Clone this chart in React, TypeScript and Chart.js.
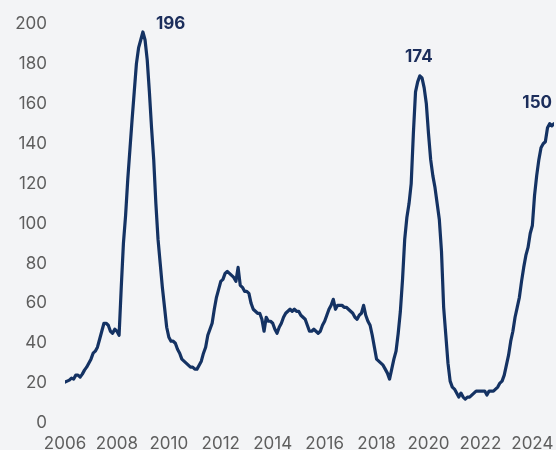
import { useEffect, useRef } from "react";
import { Chart, registerables } from "chart.js";

Chart.register(...registerables);

// Monthly series, January 2006 onward
const START_YEAR = 2006;
const monthly: number[] = [
  // 2006
  20.5, 21, 21.5, 22.5, 22, 24, 24, 23, 24.5, 26.5, 28, 30,
  // 2007
  32, 35, 36, 38, 42, 46, 50, 50, 49, 46, 45, 47,
  // 2008
  46, 44, 68, 90, 104, 122, 137, 152, 166, 180, 188, 192,
  // 2009
  196, 192, 182, 166, 148, 132, 110, 92, 80, 68, 58, 48,
  // 2010
  43, 41, 41, 40, 37, 35, 32, 31, 30, 29, 28, 28,
  // 2011
  27, 27, 29, 31, 35, 38, 44, 47, 50, 57, 63, 67,
  // 2012
  71, 72, 75, 76, 75, 74, 73, 71, 78, 69, 68, 66,
  // 2013
  66, 65, 60, 57, 56, 55, 55, 52, 46, 53, 51, 51,
  // 2014
  50, 47, 45, 48, 50, 53, 55, 56, 57, 56, 57, 56,
  // 2015
  56, 54, 53, 52, 49, 46, 46, 47, 46, 45, 46, 49,
  // 2016
  51, 54, 57, 59, 62, 57, 59, 59, 59, 58, 58, 57,
  // 2017
  56, 55, 53, 52, 54, 55, 59, 54, 51, 49, 44, 38,
  // 2018
  32, 31, 30, 29, 27, 25, 22, 27, 32, 36, 45, 56,
  // 2019
  72, 92, 103, 110, 120, 145, 166, 171, 174, 173, 168, 160,
  // 2020
  145, 132, 124, 118, 110, 102, 86, 58, 44, 30, 21, 18,
  // 2021
  17, 15, 13, 15, 13, 12, 13, 13, 14, 15, 16, 16,
  // 2022
  16, 16, 16, 14, 16, 16, 16, 17, 18, 20, 21, 24,
  // 2023
  29, 34, 41, 46, 53, 58, 63, 71, 78, 84, 88, 95,
  // 2024
  99, 114, 124, 132, 138, 140, 141, 148, 150, 149, 150,
];

const yearTicks = [2006, 2008, 2010, 2012, 2014, 2016, 2018, 2020, 2022, 2024];
const valueTicks = [0, 20, 40, 60, 80, 100, 120, 140, 160, 180, 200];

// Months (index into monthly) that carry a value callout
const calloutMonths = [36, 164, 226];

const LINE_COLOR = "#143263";
const CALLOUT_COLOR = "#1b2d5b";
const TICK_COLOR = "#5e5e5e";
const BG = "#f3f4f6";
const FONT = "Inter, 'Noto Sans', sans-serif";

// Offsets of each callout relative to its point
const calloutPlacement = [
  { dx: 13, dy: -8, align: "left" as CanvasTextAlign },
  { dx: -1, dy: -19, align: "center" as CanvasTextAlign },
  { dx: -2, dy: -21, align: "right" as CanvasTextAlign },
];

const calloutPlugin = {
  id: "callouts",
  afterDatasetsDraw(chart: any) {
    const meta = chart.getDatasetMeta(0);
    const ctx = chart.ctx as CanvasRenderingContext2D;
    ctx.save();
    ctx.font = `700 17px ${FONT}`;
    ctx.fillStyle = CALLOUT_COLOR;
    ctx.textBaseline = "middle";
    calloutMonths.forEach((idx, i) => {
      const pt = meta.data[idx];
      if (!pt) return;
      const p = calloutPlacement[i];
      ctx.textAlign = p.align;
      ctx.fillText(String(monthly[idx]), pt.x + p.dx, pt.y + p.dy);
    });
    ctx.restore();
  },
};

export default function App() {
  const canvasRef = useRef<HTMLCanvasElement | null>(null);

  useEffect(() => {
    if (!canvasRef.current) return;
    const points = monthly.map((v, i) => ({ x: START_YEAR + i / 12, y: v }));
    const chart = new Chart(canvasRef.current, {
      type: "line",
      data: {
        datasets: [
          {
            data: points,
            borderColor: LINE_COLOR,
            borderWidth: 3.2,
            pointRadius: 0,
            tension: 0,
            fill: false,
            borderJoinStyle: "round",
            borderCapStyle: "round",
          },
        ],
      },
      options: {
        animation: false,
        responsive: false,
        devicePixelRatio: 1,
        layout: { padding: { top: 24, right: 2, bottom: 0, left: 0 } },
        plugins: { legend: { display: false }, tooltip: { enabled: false } },
        scales: {
          x: {
            type: "linear",
            min: START_YEAR,
            max: START_YEAR + (monthly.length - 1) / 12,
            grid: { display: false, drawTicks: false },
            border: { display: false },
            afterBuildTicks: (scale: any) => {
              scale.ticks = yearTicks.map((v) => ({ value: v }));
            },
            afterFit: (scale: any) => {
              scale.height = 27;
              scale.paddingLeft = 0;
              scale.paddingRight = 0;
            },
            ticks: {
              autoSkip: false,
              maxRotation: 0,
              padding: 11,
              color: TICK_COLOR,
              font: { family: FONT, size: 17 },
              callback: (v: any) => String(v),
            },
          },
          y: {
            min: 0,
            max: 200,
            grid: { display: false, drawTicks: false },
            border: { display: false },
            afterBuildTicks: (scale: any) => {
              scale.ticks = valueTicks.map((v) => ({ value: v }));
            },
            afterFit: (scale: any) => {
              scale.width = 65;
              scale.paddingTop = 0;
              scale.paddingBottom = 0;
            },
            ticks: {
              padding: 18,
              color: TICK_COLOR,
              font: { family: FONT, size: 17 },
              callback: (v: any) => String(v),
            },
          },
        },
      },
      plugins: [calloutPlugin],
    });
    return () => chart.destroy();
  }, []);

  return (
    <div
      style={{
        position: "fixed",
        left: 0,
        top: 0,
        width: 556,
        height: 450,
        background: BG,
        overflow: "hidden",
      }}
    >
      <canvas ref={canvasRef} width={556} height={450} style={{ display: "block" }} />
    </div>
  );
}
